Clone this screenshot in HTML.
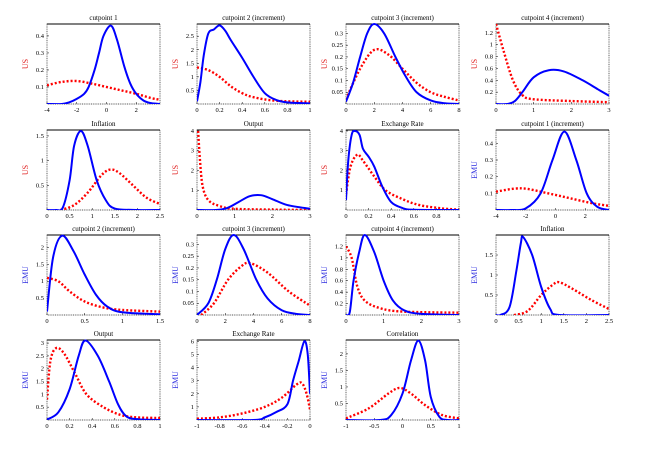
<!DOCTYPE html>
<html><head><meta charset="utf-8"><style>
html,body{margin:0;padding:0;background:#fff;}
svg{display:block;}
text{font-family:"Liberation Serif",serif;}
</style></head><body>
<svg id="fig" width="653" height="470" viewBox="0 0 653 470" xmlns="http://www.w3.org/2000/svg"></svg>
<script>
const titles=["cutpoint 1","cutpoint 2 (increment)","cutpoint 3 (increment)","cutpoint 4 (increment)","Inflation","Output","Exchange Rate","cutpoint 1 (increment)","cutpoint 2 (increment)","cutpoint 3 (increment)","cutpoint 4 (increment)","Inflation","Output","Exchange Rate","Correlation"];
const regions=["US","US","US","US","US","US","US","EMU","EMU","EMU","EMU","EMU","EMU","EMU","EMU"];
const xDomains=[[-4,3.6],[0,1],[0,8],[0,3],[0,2.5],[0,3],[0,1],[-4,3.6],[0,1.5],[0,8],[0,3],[0,2.5],[0,1],[-1,0],[-1,1]];
const yDomains=[[0,0.47],[0,2.95],[0,0.34],[0,1.35],[0,1.62],[0,4.05],[0,4.05],[0,0.48],[0,2.37],[0,0.34],[0,1.4],[0,2.0],[0,3.12],[0,6.1],[0,2.42]];
const xTicks=[[-4,-2,0,2],[0,0.2,0.4,0.6,0.8,1],[0,2,4,6,8],[0,1,2,3],[0,0.5,1,1.5,2,2.5],[0,1,2,3],[0,0.2,0.4,0.6,0.8,1],[-4,-2,0,2],[0,0.5,1,1.5],[0,2,4,6,8],[0,1,2,3],[0,0.5,1,1.5,2,2.5],[0,0.2,0.4,0.6,0.8,1],[-1,-0.8,-0.6,-0.4,-0.2,0],[-1,-0.5,0,0.5,1]];
const yTicks=[[0.1,0.2,0.3,0.4],[0.5,1,1.5,2,2.5],[0.05,0.1,0.15,0.2,0.25,0.3],[0.2,0.4,0.6,0.8,1,1.2],[0.5,1,1.5],[1,2,3,4],[1,2,3,4],[0.1,0.2,0.3,0.4],[0.5,1,1.5,2],[0.05,0.1,0.15,0.2,0.25,0.3],[0.2,0.4,0.6,0.8,1,1.2],[0.5,1,1.5],[0.5,1,1.5,2,2.5,3],[1,2,3,4,5,6],[0.5,1,1.5,2]];
const blueX=[
[-4,-3,-2.5,-2,-1.5,-1.2,-0.8,-0.5,-0.2,0.3,0.7,1.2,1.6,2,2.5,3,3.6],
[0,0.03,0.06,0.1,0.15,0.2,0.25,0.3,0.4,0.5,0.6,0.7,0.8,1],
[0,0.5,1,1.5,2,2.7,3.5,4.2,5,6,7,8],
[0,0.3,0.5,0.7,1,1.4,1.8,2.3,2.7,3],
[0,0.2,0.35,0.5,0.6,0.75,0.9,1.1,1.3,1.5,2,2.5],
[0,0.5,0.8,1.1,1.4,1.7,2,2.4,3],
[0,0.02,0.05,0.08,0.12,0.15,0.2,0.25,0.32,0.4,0.5,0.6,1],
[-4,-3,-2,-1,-0.2,0.6,1.4,2.1,2.8,3.6],
[0,0.08,0.2,0.35,0.5,0.65,0.8,1,1.5],
[0,0.8,1.4,2,2.6,3.3,4.2,5,6,7,8],
[0,0.1,0.2,0.35,0.5,0.75,1,1.25,1.55,2,3],
[0,0.1,0.3,0.45,0.55,0.6,0.8,1,1.2,1.4,2.5],
[0,0.1,0.2,0.28,0.34,0.45,0.55,0.63,0.7,0.8,1],
[-1,-0.5,-0.4,-0.3,-0.2,-0.15,-0.1,-0.05,-0.02,0],
[-1,-0.4,-0.2,0,0.15,0.28,0.4,0.5,0.65,0.8,1]];
const blueY=[
[0,0,0.01,0.03,0.06,0.1,0.2,0.3,0.4,0.46,0.38,0.22,0.12,0.06,0.02,0.005,0],
[0.1,0.8,1.8,2.6,2.75,2.9,2.7,2.35,1.7,1.0,0.4,0.15,0.06,0.02],
[0.01,0.09,0.2,0.3,0.34,0.3,0.2,0.12,0.05,0.015,0.003,0],
[0,0,0.05,0.2,0.45,0.57,0.55,0.4,0.25,0.14],
[0,0,0.05,0.6,1.3,1.6,1.3,0.6,0.2,0.03,0,0],
[0,0,0.1,0.4,0.7,0.75,0.55,0.25,0.06],
[0.5,2.5,3.8,4.0,3.8,3.1,2.7,2.2,1.2,0.4,0.1,0.01,0],
[0,0,0.01,0.1,0.3,0.47,0.3,0.1,0.02,0],
[0.1,1.7,2.35,1.9,1.2,0.6,0.25,0.08,0.02],
[0,0.05,0.15,0.28,0.34,0.28,0.15,0.07,0.02,0.005,0],
[0,0.05,0.6,1.1,1.4,1.1,0.6,0.25,0.08,0.02,0],
[0,0,0.2,1.1,1.8,1.95,1.5,0.7,0.15,0,0],
[0.02,0.3,1.2,2.5,3.1,2.5,1.5,0.6,0.15,0.03,0],
[0,0,0.2,0.6,1.2,3,4.5,6,5,2],
[0,0,0.15,0.8,1.8,2.4,1.8,0.7,0.1,0,0]];
const redX=[
[-4,-3,-2,-1,0,1,2,3,3.6],
[0,0.1,0.2,0.3,0.4,0.5,0.7,1],
[0,1,2,3,4,5,6,7,8],
[0,0.2,0.45,0.7,1,2,3],
[0.3,0.6,0.9,1.2,1.4,1.6,1.9,2.2,2.5],
[0.03,0.08,0.15,0.3,0.6,1,2,3],
[0,0.04,0.1,0.15,0.25,0.35,0.5,0.65,0.85,1],
[-4,-2.3,-0.5,1,2.5,3.6],
[0,0.15,0.3,0.5,0.75,1,1.5],
[0.3,1.2,2.2,3.2,3.8,5,6.5,8],
[0,0.15,0.3,0.5,0.9,1.5,3],
[0.4,0.7,1,1.25,1.4,1.7,2.1,2.5],
[0,0.03,0.08,0.15,0.25,0.35,0.5,0.65,0.8,1],
[-1,-0.8,-0.6,-0.4,-0.25,-0.12,-0.07,-0.03,0],
[-1,-0.6,-0.25,-0.05,0.15,0.4,0.7,1]];
const redY=[
[0.11,0.13,0.135,0.12,0.1,0.08,0.06,0.035,0.025],
[1.35,1.25,1.0,0.65,0.4,0.25,0.12,0.08],
[0.02,0.15,0.23,0.21,0.15,0.09,0.05,0.03,0.015],
[1.35,0.9,0.4,0.15,0.08,0.05,0.03],
[0,0.1,0.35,0.7,0.82,0.75,0.5,0.25,0.12],
[4,2.5,1.2,0.5,0.2,0.06,0.02,0],
[0.8,2.2,2.8,2.5,1.7,1.0,0.55,0.25,0.08,0.02],
[0.11,0.13,0.1,0.07,0.04,0.025],
[1.1,1.0,0.7,0.4,0.22,0.15,0.1],
[0,0.05,0.15,0.21,0.22,0.18,0.1,0.04],
[1.2,1.0,0.5,0.25,0.12,0.06,0.04],
[0,0.1,0.5,0.75,0.82,0.65,0.38,0.15],
[0.8,2.3,2.8,2.6,1.8,1.0,0.5,0.2,0.1,0.08],
[0.1,0.2,0.5,1,1.7,2.7,2.8,2.0,0.8],
[0.05,0.35,0.8,0.97,0.8,0.45,0.15,0.05]];

const NS="http://www.w3.org/2000/svg";
const svg=document.getElementById('fig');
const colL=[47,197,346,496], rowT=[24,130,235,340], PW=113, PH=80;
function mk(tag,attrs,parent){const e=document.createElementNS(NS,tag);for(const k in attrs)e.setAttribute(k,attrs[k]);(parent||svg).appendChild(e);return e;}
function fmt(v){return (Math.round(v*100)/100).toString();}
function pathFrom(pts){
  let d="M"+pts[0][0].toFixed(2)+","+pts[0][1].toFixed(2);
  for(let i=0;i<pts.length-1;i++){
    const p0=pts[Math.max(0,i-1)],p1=pts[i],p2=pts[i+1],p3=pts[Math.min(pts.length-1,i+2)];
    const c1x=p1[0]+(p2[0]-p0[0])/6,c1y=p1[1]+(p2[1]-p0[1])/6;
    const c2x=p2[0]-(p3[0]-p1[0])/6,c2y=p2[1]-(p3[1]-p1[1])/6;
    d+=" C"+c1x.toFixed(2)+","+c1y.toFixed(2)+" "+c2x.toFixed(2)+","+c2y.toFixed(2)+" "+p2[0].toFixed(2)+","+p2[1].toFixed(2);
  }
  return d;
}
for(let i=0;i<titles.length;i++){
  const L=colL[i%4],T=rowT[Math.floor(i/4)];
  const xd=xDomains[i],yd=yDomains[i];
  const sx=v=>L+(v-xd[0])/(xd[1]-xd[0])*PW;
  const sy=v=>T+PH-(v-yd[0])/(yd[1]-yd[0])*PH;
  const g=mk('g',{});
  
  
  const cp=mk('clipPath',{id:'c'+i},g);mk('rect',{x:L,y:T-2,width:PW,height:PH+2},cp);
  const fr=mk('rect',{x:L,y:T,width:PW,height:PH,fill:'none',stroke:'#222','stroke-width':0.7,'stroke-dasharray':'1,0.8'},g);
  
  
  mk('line',{x1:L,y1:T,x2:L+PW,y2:T,stroke:'#000','stroke-width':1},g);
  const t=mk('text',{x:L+PW/2,y:T-4,'font-size':7,'text-anchor':'middle',fill:'#000'},g);t.textContent=titles[i];
  
  
  const col=regions[i]==="US"?"#e02020":"#3030e0";
  const yl=mk('text',{x:0,y:0,'font-size':8,'text-anchor':'middle',fill:col,transform:`translate(${L-19},${T+PH/2}) rotate(-90)`},g);yl.textContent=regions[i];
  
  
  xTicks[i].forEach(v=>{const x=sx(v);
    mk('line',{x1:x,y1:T+PH,x2:x,y2:T+PH-2,stroke:'#000','stroke-width':0.5},g);
    const tx=mk('text',{x:x,y:T+PH+8,'font-size':6.5,'text-anchor':'middle',fill:'#000'},g);tx.textContent=fmt(v);
    
    });
  yTicks[i].forEach(v=>{const y=sy(v);
    mk('line',{x1:L,y1:y,x2:L+2,y2:y,stroke:'#000','stroke-width':0.5},g);
    const ty=mk('text',{x:L-3,y:y+2,'font-size':6.5,'text-anchor':'end',fill:'#000'},g);ty.textContent=fmt(v);
    
    });
  const rp=redX[i].map((x,k)=>[sx(x),sy(redY[i][k])]);
  const bp=blueX[i].map((x,k)=>[sx(x),sy(blueY[i][k])]);
  const r=mk('path',{d:pathFrom(rp),fill:'none',stroke:'#ff0000','stroke-width':2.4,'stroke-dasharray':'2,2','clip-path':`url(#c${i})`},g);
  
  
  const b=mk('path',{d:pathFrom(bp),fill:'none',stroke:'#0000ff','stroke-width':2,'clip-path':`url(#c${i})`},g);
  
  
}
</script>
</body></html>
